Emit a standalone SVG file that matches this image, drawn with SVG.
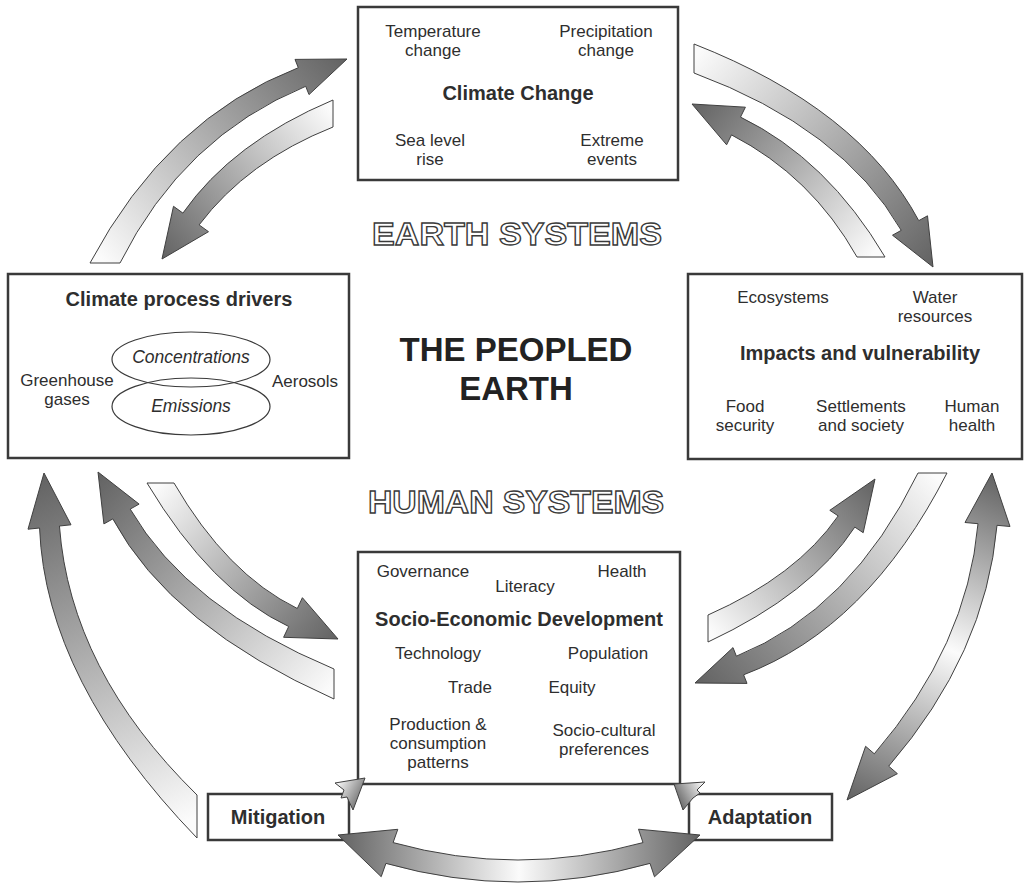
<svg xmlns="http://www.w3.org/2000/svg" width="1028" height="883" viewBox="0 0 1028 883">
<style>
  text { font-family: "Liberation Sans", Arial, sans-serif; fill: #2e2e2e; }
  .t { font-size: 17px; text-anchor: middle; }
  .it { font-size: 17.5px; text-anchor: middle; font-style: italic; }
  .h { font-size: 20px; font-weight: bold; text-anchor: middle; }
  .big { font-size: 33px; font-weight: bold; text-anchor: middle; fill: #222; }
  .ol { font-size: 31px; font-weight: bold; text-anchor: middle; fill: #fff; stroke: #3a3a3a; stroke-width: 1.3px; }
  .box { fill: #fff; stroke: #3a3a3a; stroke-width: 2.5; }
  .ell { fill: none; stroke: #3a3a3a; stroke-width: 1.2; }
  .arr { stroke: #404040; stroke-width: 1; stroke-linejoin: miter; }
</style>
<defs>
  <linearGradient id="g1" gradientUnits="userSpaceOnUse">
    <stop offset="0" stop-color="#fbfbfb"/>
    <stop offset="1" stop-color="#626262"/>
  </linearGradient>
  <linearGradient id="g2" gradientUnits="userSpaceOnUse">
    <stop offset="0" stop-color="#626262"/>
    <stop offset="0.5" stop-color="#fbfbfb"/>
    <stop offset="1" stop-color="#626262"/>
  </linearGradient>
  <linearGradient id="gA" href="#g1" gradientUnits="userSpaceOnUse" x1="105" y1="263" x2="347" y2="59"/>
  <linearGradient id="gB" href="#g1" gradientUnits="userSpaceOnUse" x1="333" y1="113" x2="162" y2="259"/>
  <linearGradient id="gC" href="#g1" gradientUnits="userSpaceOnUse" x1="694" y1="58" x2="933" y2="267"/>
  <linearGradient id="gD" href="#g1" gradientUnits="userSpaceOnUse" x1="871" y1="257" x2="692" y2="104"/>
  <linearGradient id="gE" href="#g1" gradientUnits="userSpaceOnUse" x1="197" y1="816" x2="44" y2="473"/>
  <linearGradient id="gF" href="#g1" gradientUnits="userSpaceOnUse" x1="334" y1="684" x2="98" y2="472"/>
  <linearGradient id="gG" href="#g1" gradientUnits="userSpaceOnUse" x1="160" y1="483" x2="338" y2="639"/>
  <linearGradient id="gH" href="#g1" gradientUnits="userSpaceOnUse" x1="708" y1="628" x2="875" y2="479"/>
  <linearGradient id="gI" href="#g1" gradientUnits="userSpaceOnUse" x1="932" y1="473" x2="695" y2="683"/>
  <linearGradient id="gJ" href="#g2" gradientUnits="userSpaceOnUse" x1="847" y1="800" x2="992" y2="473"/>
  <linearGradient id="gK" href="#g2" gradientUnits="userSpaceOnUse" x1="338" y1="835" x2="700" y2="835"/>
  <linearGradient id="gL" href="#g1" gradientUnits="userSpaceOnUse" x1="336" y1="784" x2="365" y2="800"/>
  <linearGradient id="gM" href="#g1" gradientUnits="userSpaceOnUse" x1="704" y1="784" x2="675" y2="800"/>
</defs>

<rect width="1028" height="883" fill="#fff"/>

<g id="climate-change">
  <rect class="box" x="358" y="7" width="320" height="173"/>
  <text class="t" x="433" y="37">Temperature</text>
  <text class="t" x="433" y="56">change</text>
  <text class="t" x="606" y="37">Precipitation</text>
  <text class="t" x="606" y="56">change</text>
  <text class="h" x="518" y="100">Climate Change</text>
  <text class="t" x="430" y="146">Sea level</text>
  <text class="t" x="430" y="165">rise</text>
  <text class="t" x="612" y="146">Extreme</text>
  <text class="t" x="612" y="165">events</text>
</g>

<g id="drivers">
  <rect class="box" x="8" y="274" width="341" height="184"/>
  <text class="h" x="179" y="306">Climate process drivers</text>
  <ellipse class="ell" cx="191" cy="359.5" rx="79" ry="27.5"/>
  <ellipse class="ell" cx="191" cy="406.5" rx="79" ry="28.5"/>
  <text class="it" x="191" y="363">Concentrations</text>
  <text class="it" x="191" y="412">Emissions</text>
  <text class="t" x="67" y="386">Greenhouse</text>
  <text class="t" x="67" y="405">gases</text>
  <text class="t" x="305" y="387">Aerosols</text>
</g>

<g id="impacts">
  <rect class="box" x="688" y="274" width="334" height="185"/>
  <text class="t" x="783" y="303">Ecosystems</text>
  <text class="t" x="935" y="303">Water</text>
  <text class="t" x="935" y="322">resources</text>
  <text class="h" x="860" y="360">Impacts and vulnerability</text>
  <text class="t" x="745" y="412">Food</text>
  <text class="t" x="745" y="431">security</text>
  <text class="t" x="861" y="412">Settlements</text>
  <text class="t" x="861" y="431">and society</text>
  <text class="t" x="972" y="412">Human</text>
  <text class="t" x="972" y="431">health</text>
</g>

<g id="socio-economic">
  <rect class="box" x="358" y="552" width="322" height="232"/>
  <text class="t" x="423" y="577">Governance</text>
  <text class="t" x="525" y="592">Literacy</text>
  <text class="t" x="622" y="577">Health</text>
  <text class="h" x="519" y="626">Socio-Economic Development</text>
  <text class="t" x="438" y="659">Technology</text>
  <text class="t" x="608" y="659">Population</text>
  <text class="t" x="470" y="693">Trade</text>
  <text class="t" x="572" y="693">Equity</text>
  <text class="t" x="438" y="730">Production &amp;</text>
  <text class="t" x="438" y="749">consumption</text>
  <text class="t" x="438" y="768">patterns</text>
  <text class="t" x="604" y="736">Socio-cultural</text>
  <text class="t" x="604" y="755">preferences</text>
</g>

<g id="mitigation">
  <rect class="box" x="208" y="794" width="141" height="46"/>
  <text class="h" x="278" y="824">Mitigation</text>
</g>

<g id="adaptation">
  <rect class="box" x="689" y="794" width="143" height="46"/>
  <text class="h" x="760" y="824">Adaptation</text>
</g>

<g id="labels">
  <text class="ol" x="517" y="245" textLength="290" lengthAdjust="spacingAndGlyphs">EARTH SYSTEMS</text>
  <text class="big" x="516" y="361">THE PEOPLED</text>
  <text class="big" x="516" y="400">EARTH</text>
  <text class="ol" x="516" y="513" textLength="296" lengthAdjust="spacingAndGlyphs">HUMAN SYSTEMS</text>
</g>

<g id="connectors">
  <path class="arr" fill="url(#gA)" d="M90,263 Q166.9,118.6 298.3,67.7 L295,59.4 L347,59 L309,94.6 L305.7,86.3 Q183.3,136.8 120,263 Z"/>
  <path class="arr" fill="url(#gB)" d="M333,100 Q232.3,142.4 182.9,213.1 L173.5,206.3 L162,259 L208.5,231.7 L199.1,224.9 Q247.1,161.2 333,127 Z"/>
  <path class="arr" fill="url(#gC)" d="M694,44 Q859.1,108.8 918.75,220.65 L927.5,215.8 L933,267 L892.5,235.2 L901.25,230.35 Q842.3,128 694,73 Z"/>
  <path class="arr" fill="url(#gD)" d="M885,257 Q827.4,159.4 740.5,117.1 L745.4,107.2 L692,104 L726.6,144.8 L731.5,134.9 Q811.6,176.2 857,257 Z"/>
  <path class="arr" fill="url(#gE)" d="M197,795 Q70.2,670.6 59.45,526 L71,524.8 L44,473 L28,529.2 L39.55,528 Q45.8,681.4 197,838 Z"/>
  <path class="arr" fill="url(#gF)" d="M334,669 Q187.5,607.9 130.2,509.1 L139.1,504.1 L98,472 L103.9,523.9 L112.8,518.9 Q170.7,626.5 334,699 Z"/>
  <path class="arr" fill="url(#gG)" d="M174,483 Q226.8,574 297.3,608.5 L302.4,597.7 L338,639 L283.6,637.3 L288.7,626.5 Q211.6,590.6 147,483 Z"/>
  <path class="arr" fill="url(#gH)" d="M708,615 Q796.5,576 838.2,515.9 L829.8,510.3 L875,479 L863.2,532.7 L854.8,527.1 Q811.5,593.6 708,642 Z"/>
  <path class="arr" fill="url(#gI)" d="M918,473 Q851.2,609.9 736.4,656.2 L733,647.6 L695,683 L747,683.4 L743.6,674.8 Q867.8,628.1 947,473 Z"/>
  <path class="arr" fill="url(#gJ)" d="M874.3,753.8 Q967.3,646 978,523.7 L965,522.5 L992,473 L1010,526.5 L997,525.3 Q985.7,653.8 888.7,766.2 L897.4,773.7 L847,800 L865.6,746.3 Z"/>
  <path class="arr" fill="url(#gK)" d="M393.1,842.6 Q518,877.4 643,842.6 L638.5,829.2 L700,835 L654.5,876.8 L650,863.4 Q518,900.6 385.9,863.4 L381.2,876.7 L338,835 L397.8,829.3 Z"/>
  <polygon class="arr" fill="url(#gL)" points="335,783 365,778 353,810 347,797 341,798 344,790"/>
  <polygon class="arr" fill="url(#gM)" points="674,784 705,782 697,790 700,793 693,798 683,810"/>
</g>
</svg>
